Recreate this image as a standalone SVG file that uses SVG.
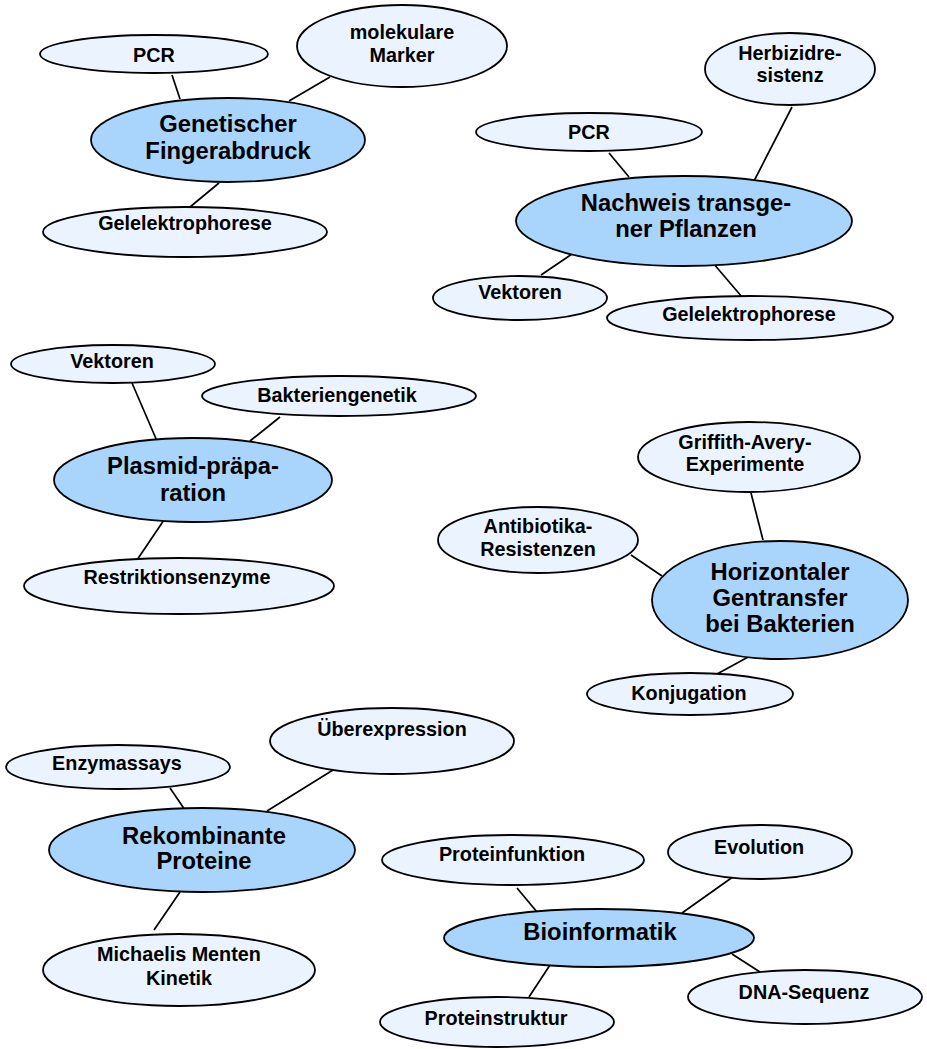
<svg xmlns="http://www.w3.org/2000/svg" width="927" height="1049" viewBox="0 0 927 1049">
<style>
.main{fill:#a9d5fd;stroke:#000;stroke-width:1.8}
.sub{fill:#ebf4fe;stroke:#000;stroke-width:1.8}
.lm{font-family:"Liberation Sans",Arial,sans-serif;font-weight:bold;font-size:23.8px;text-anchor:middle;fill:#000}
.ls{font-family:"Liberation Sans",Arial,sans-serif;font-weight:bold;font-size:19.8px;text-anchor:middle;fill:#000}
#connectors line{stroke:#000;stroke-width:1.7}
</style>
<rect width="927" height="1049" fill="#fff"/>
<g id="connectors">
<line x1="172" y1="75" x2="180" y2="99"/>
<line x1="330" y1="77" x2="289" y2="101"/>
<line x1="219" y1="183" x2="190" y2="207"/>
<line x1="609" y1="153" x2="629" y2="177"/>
<line x1="792" y1="107" x2="754" y2="181"/>
<line x1="541" y1="275" x2="572" y2="254"/>
<line x1="713" y1="263" x2="742" y2="297"/>
<line x1="132" y1="383" x2="157" y2="441"/>
<line x1="280" y1="417" x2="250" y2="441"/>
<line x1="164" y1="520" x2="137" y2="560"/>
<line x1="751" y1="493" x2="763" y2="540"/>
<line x1="631" y1="555" x2="662" y2="576"/>
<line x1="750" y1="656" x2="717" y2="674"/>
<line x1="170" y1="788" x2="185" y2="810"/>
<line x1="333" y1="770" x2="267" y2="811"/>
<line x1="180" y1="892" x2="154" y2="930"/>
<line x1="517" y1="888" x2="537" y2="912"/>
<line x1="737" y1="874" x2="682" y2="913"/>
<line x1="732" y1="954" x2="760" y2="972"/>
<line x1="550" y1="965" x2="529" y2="997"/>
</g>
<g id="n-pcr1"><ellipse class="sub" cx="154" cy="54" rx="114" ry="19"/><text class="ls" x="154" y="62">PCR</text></g>
<g id="n-marker"><ellipse class="sub" cx="402" cy="46" rx="105" ry="41"/><text class="ls" x="402" y="39">molekulare</text><text class="ls" x="402" y="62">Marker</text></g>
<g id="n-finger"><ellipse class="main" cx="228" cy="140" rx="137" ry="42"/><text class="lm" x="228" y="131.5">Genetischer</text><text class="lm" x="228" y="158.5">Fingerabdruck</text></g>
<g id="n-gel1"><ellipse class="sub" cx="185" cy="232" rx="142" ry="25"/><text class="ls" x="185" y="230">Gelelektrophorese</text></g>
<g id="n-herb"><ellipse class="sub" cx="790" cy="69" rx="85" ry="36"/><text class="ls" x="790" y="60">Herbizidre-</text><text class="ls" x="790" y="82">sistenz</text></g>
<g id="n-pcr2"><ellipse class="sub" cx="589" cy="132" rx="113" ry="19"/><text class="ls" x="589" y="139">PCR</text></g>
<g id="n-nachweis"><ellipse class="main" cx="684" cy="221" rx="168" ry="45"/><text class="lm" x="686" y="210.5">Nachweis transge-</text><text class="lm" x="686" y="236.5">ner Pflanzen</text></g>
<g id="n-vek1"><ellipse class="sub" cx="520" cy="298" rx="87" ry="22"/><text class="ls" x="520" y="299">Vektoren</text></g>
<g id="n-gel2"><ellipse class="sub" cx="750" cy="318" rx="143" ry="22"/><text class="ls" x="749" y="321">Gelelektrophorese</text></g>
<g id="n-vek2"><ellipse class="sub" cx="113" cy="364" rx="102" ry="19"/><text class="ls" x="112" y="368">Vektoren</text></g>
<g id="n-bakt"><ellipse class="sub" cx="339" cy="396" rx="137" ry="20"/><text class="ls" x="337" y="402">Bakteriengenetik</text></g>
<g id="n-plasmid"><ellipse class="main" cx="193" cy="480" rx="139" ry="42"/><text class="lm" x="193" y="473.5">Plasmid-präpa-</text><text class="lm" x="193" y="500.5">ration</text></g>
<g id="n-restr"><ellipse class="sub" cx="179" cy="586" rx="155" ry="28"/><text class="ls" x="177" y="584">Restriktionsenzyme</text></g>
<g id="n-griffith"><ellipse class="sub" cx="749" cy="457" rx="111" ry="35"/><text class="ls" x="745" y="449">Griffith-Avery-</text><text class="ls" x="745" y="471">Experimente</text></g>
<g id="n-antib"><ellipse class="sub" cx="538" cy="540" rx="100" ry="33"/><text class="ls" x="538" y="533">Antibiotika-</text><text class="ls" x="538" y="556">Resistenzen</text></g>
<g id="n-horiz"><ellipse class="main" cx="780" cy="600" rx="128" ry="59"/><text class="lm" x="780" y="579.5">Horizontaler</text><text class="lm" x="780" y="605.5">Gentransfer</text><text class="lm" x="780" y="631.5">bei Bakterien</text></g>
<g id="n-konj"><ellipse class="sub" cx="690" cy="694" rx="103" ry="21"/><text class="ls" x="689" y="700">Konjugation</text></g>
<g id="n-ueber"><ellipse class="sub" cx="392" cy="741" rx="122" ry="33"/><text class="ls" x="392" y="736">Überexpression</text></g>
<g id="n-enzym"><ellipse class="sub" cx="118" cy="767" rx="112" ry="22"/><text class="ls" x="117" y="770">Enzymassays</text></g>
<g id="n-rekomb"><ellipse class="main" cx="202" cy="850" rx="153" ry="42"/><text class="lm" x="204" y="843.5">Rekombinante</text><text class="lm" x="204" y="868.5">Proteine</text></g>
<g id="n-michaelis"><ellipse class="sub" cx="179" cy="970" rx="136" ry="36"/><text class="ls" x="179" y="961">Michaelis Menten</text><text class="ls" x="179" y="985">Kinetik</text></g>
<g id="n-pfunk"><ellipse class="sub" cx="513" cy="860" rx="131" ry="25"/><text class="ls" x="512" y="861">Proteinfunktion</text></g>
<g id="n-evol"><ellipse class="sub" cx="760" cy="852" rx="92" ry="27"/><text class="ls" x="759" y="854">Evolution</text></g>
<g id="n-bioinf"><ellipse class="main" cx="599" cy="938" rx="155" ry="29"/><text class="lm" x="600" y="939.5">Bioinformatik</text></g>
<g id="n-dna"><ellipse class="sub" cx="805" cy="997" rx="117" ry="27"/><text class="ls" x="804" y="999">DNA-Sequenz</text></g>
<g id="n-pstrukt"><ellipse class="sub" cx="497" cy="1022" rx="117" ry="25"/><text class="ls" x="496" y="1025">Proteinstruktur</text></g>
</svg>
